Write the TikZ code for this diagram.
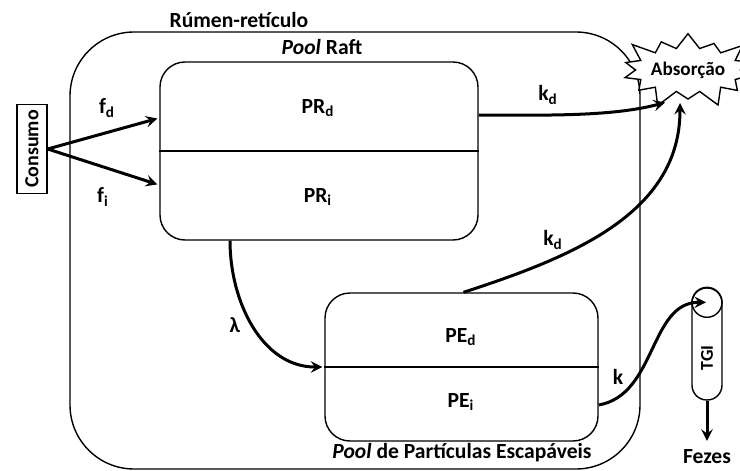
\documentclass[tikz,border=0pt]{standalone}
\usepackage{fontspec}
\setmainfont{Carlito}
\usepackage{tikz}
\usetikzlibrary{arrows, positioning, shapes.geometric, shapes.symbols}

\begin{document}
\begin{tikzpicture}[x=0.5pt,y=-0.5pt,>=stealth,font=\bfseries\fontsize{10.8}{13}\selectfont]
  \tikzstyle{pool}=[draw,line width=0.7pt,rounded corners=12.5pt]
  \tikzstyle{flow}=[->,line width=1.5pt,shorten >=1pt]
  \pgfmathsetseed{7}

  \useasboundingbox (0,0) rectangle (740,471);

  % containers
  \node[pool,rounded corners=32pt,minimum width=285pt,minimum height=218.5pt] (rumen) at (355,250.5) {};
  \node (rumen_lbl) at (239,20) {Rúmen-retículo};

  \node[pool,minimum width=159pt,minimum height=89pt] (raft) at (319,151) {};
  \node (raft_lbl) at (322,47) {\textit{Pool} Raft};
  \draw[line width=0.7pt] (raft.west) -- (raft.east);
  \node (pr_d) at (318,108) {PR\textsubscript{d}};
  \node (pr_i) at (318,197) {PR\textsubscript{i}};

  \node[pool,minimum width=136.5pt,minimum height=74pt] (pe) at (461.5,367) {};
  \node (pe_lbl) at (462,453) {\textit{Pool} de Partículas Escapáveis};
  \draw[line width=0.7pt] (pe.west) -- (pe.east);
  \node (pe_d) at (461,337) {PE\textsubscript{d}};
  \node (pe_i) at (461,402) {PE\textsubscript{i}};

  % outside
  \node[draw,line width=0.7pt,rotate=90,minimum width=44.5pt,minimum height=15pt,inner sep=1pt,
        font=\bfseries\fontsize{10}{12}\selectfont] (consumo) at (32,149) {Consumo};
  \node[starburst,draw,fill=white,line width=0.7pt,starburst points=14,starburst point height=10pt,
        minimum width=51pt,minimum height=42pt,inner sep=0pt,font=\bfseries\fontsize{9.6}{12}\selectfont] (absorcao) at (688,70) {Absorção};
  \node[draw,line width=0.7pt,rounded corners=7.4pt,minimum width=15pt,minimum height=56pt] (tgi) at (707,344) {};
  \draw[line width=0.7pt] ([shift={(0,15)}]tgi.north) circle[radius=7.5pt];
  \node (tgi_lbl) at (707,358) {\rotatebox{90}{\small TGI}};
  \node (fezes) at (707,457) {Fezes};

  % flows
  \draw[flow] (consumo.south) -- ([shift={(0,-33)}]raft.west);
  \draw[flow] (consumo.south) -- ([shift={(0,34)}]raft.west);
  \node (f_d) at (107,108) {f\textsubscript{d}};
  \node (f_i) at (103,197) {f\textsubscript{i}};

  \draw[flow] ([shift={(0,-36)}]raft.east) to[out=0,in=195,looseness=0.8] ([shift={(-21,32)}]absorcao.center);
  \node (k_d1) at (548,95) {k\textsubscript{d}};

  \draw[flow] ([shift={(-89,0)}]raft.south) to[out=-90,in=180] (pe.west);
  \node (lambda) at (235,325) {λ};

  \draw[flow] ([shift={(2,0)}]pe.north) to[out=18,in=-90] ([shift={(-8,31)}]absorcao.center);
  \node (k_d2) at (553,240) {k\textsubscript{d}};

  \draw[flow] ([shift={(0,38)}]pe.east) to[out=10,in=180] ([shift={(1,15)}]tgi.north);
  \node (k) at (618,377) {k};

  \draw[flow] (tgi.south) -- (fezes.north);
\end{tikzpicture}
\end{document}
